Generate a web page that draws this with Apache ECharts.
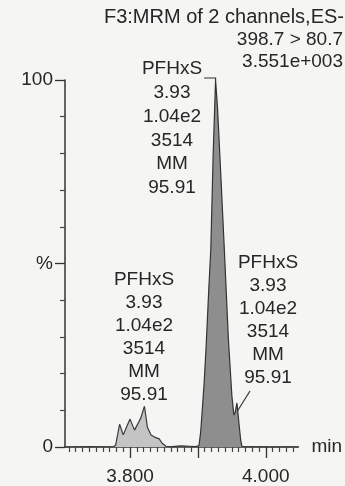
<!DOCTYPE html>
<html>
<head>
<meta charset="utf-8">
<script src="https://cdn.jsdelivr.net/npm/echarts@6/dist/echarts.min.js"></script>
<style>
    html, body { margin: 0; padding: 0; background: #f5f5f3; }
    #main { width: 345px; height: 486px; }
</style>
</head>
<body>
<div id="main"></div>
<script>
// retention time (min) / relative intensity (%)
var smallTimes = [3.7042, 3.74, 3.775, 3.7788, 3.7846, 3.790, 3.795, 3.800, 3.8066, 3.812, 3.816, 3.8212, 3.8256, 3.831, 3.836, 3.843, 3.847, 3.853, 3.862];
var smallPct   = [0, 0.1, 0, 0.5, 6.2, 3.3, 5.5, 7.6, 4.6, 6.5, 8, 11.1, 5.4, 3.3, 2.7, 2.2, 1.1, 0.2, 0.1];

var mainTimes = [3.862, 3.875, 3.888, 3.896, 3.9015, 3.904, 3.906, 3.909, 3.912, 3.916, 3.919, 3.9225, 3.926, 3.929, 3.934, 3.939, 3.945, 3.950, 3.953, 3.955, 3.9575, 3.960, 3.963, 3.965, 4.00, 4.048];
var mainPct   = [0.1, 0.3, 0.2, 0.1, 0.3, 4, 9, 17, 27, 43, 54, 80, 100, 92, 73, 53.5, 29, 14, 8.7, 9.5, 12, 7.3, 1.9, 0.1, 0, 0];

var xLabelValues = [3.8, 4.0];
var xMajorTicks = [3.8, 3.9, 4.0];
var xMinorTicks = [3.71, 3.72, 3.73, 3.74, 3.75, 3.76, 3.77, 3.78, 3.79, 3.81, 3.82, 3.83, 3.84, 3.85, 3.86, 3.87, 3.88, 3.89, 3.91, 3.92, 3.93, 3.94, 3.95, 3.96, 3.97, 3.98, 3.99, 4.01, 4.02, 4.03, 4.04];
var yLabelValues = [0, 50, 100];
var yLabelTexts = ['0', '%', '100'];
var yMinorTicks = [10, 20, 30, 40, 60, 70, 80, 90];

var headerLines = ['F3:MRM of 2 channels,ES-', '398.7 > 80.7', '3.551e+003'];
var peakLabel = ['PFHxS', '3.93', '1.04e2', '3514', 'MM', '95.91'];

function pairs(xs, ys) {
    var out = [];
    for (var i = 0; i < xs.length; i++) out.push([xs[i], ys[i]]);
    return out;
}

var ink = '#262626';
var font = 'Liberation Sans';
var xMin = 3.7042, xMax = 4.048;

var myChart = echarts.init(document.getElementById('main'));
var option = {
    animation: false,
    backgroundColor: '#f5f5f3',
    grid: { left: 65, right: 45, top: 80, bottom: 38 },
    xAxis: [
        {
            type: 'value', min: xMin, max: xMax, position: 'bottom',
            name: 'min', nameLocation: 'end', nameGap: 13,
            nameTextStyle: { color: ink, fontSize: 19, fontFamily: font, verticalAlign: 'middle' },
            axisLine: { show: true, lineStyle: { color: '#333', width: 1.5 } },
            axisTick: { show: true, customValues: xMajorTicks, length: 11, lineStyle: { color: '#333', width: 1.3 } },
            axisLabel: {
                customValues: xLabelValues, margin: 20, color: ink, fontSize: 19, fontFamily: font,
                formatter: function (v) { return v.toFixed(3); }
            },
            splitLine: { show: false }
        },
        {
            type: 'value', min: xMin, max: xMax, position: 'bottom',
            axisLine: { show: false },
            axisTick: { show: true, customValues: xMinorTicks, length: 5, lineStyle: { color: '#444', width: 1.2 } },
            axisLabel: { show: false },
            splitLine: { show: false }
        }
    ],
    yAxis: [
        {
            type: 'value', min: 0, max: 100, position: 'left',
            axisLine: { show: true, lineStyle: { color: '#333', width: 1.5 } },
            axisTick: { show: true, customValues: yLabelValues, length: 10, lineStyle: { color: '#333', width: 1.3 } },
            axisLabel: {
                customValues: yLabelValues, margin: 12, color: ink, fontSize: 19, fontFamily: font,
                formatter: function (v) { return yLabelTexts[yLabelValues.indexOf(v)]; }
            },
            splitLine: { show: false }
        },
        {
            type: 'value', min: 0, max: 100, position: 'left',
            axisLine: { show: false },
            axisTick: { show: true, customValues: yMinorTicks, length: 5, lineStyle: { color: '#444', width: 1.2 } },
            axisLabel: { show: false },
            splitLine: { show: false }
        }
    ],
    series: [
        {
            type: 'line', xAxisIndex: 0, yAxisIndex: 0, showSymbol: false,
            data: pairs(smallTimes, smallPct),
            lineStyle: { color: '#3a3a3a', width: 1.2 },
            areaStyle: { color: '#c4c4c4', opacity: 1 }
        },
        {
            type: 'line', xAxisIndex: 0, yAxisIndex: 0, showSymbol: false,
            data: pairs(mainTimes, mainPct),
            lineStyle: { color: '#333', width: 1.2 },
            areaStyle: { color: '#8e8e8e', opacity: 1 }
        }
    ],
    graphic: {
        elements: [
            { id: 'h0', type: 'text', style: { text: headerLines[0], x: 344, y: 17, align: 'right', verticalAlign: 'middle', font: '20px "' + font + '"', fill: ink } },
            { id: 'h1', type: 'text', style: { text: headerLines[1], x: 343, y: 40, align: 'right', verticalAlign: 'middle', font: '19px "' + font + '"', fill: ink } },
            { id: 'h2', type: 'text', style: { text: headerLines[2], x: 343, y: 62, align: 'right', verticalAlign: 'middle', font: '19px "' + font + '"', fill: ink } },
            { id: 'a1', type: 'text', style: { text: peakLabel.join('\n'), x: 172, y: 57, align: 'center', verticalAlign: 'top', lineHeight: 23.8, font: '19px "' + font + '"', fill: ink } },
            { id: 'a2', type: 'text', style: { text: peakLabel.join('\n'), x: 144, y: 268.5, align: 'center', verticalAlign: 'top', lineHeight: 23, font: '19px "' + font + '"', fill: ink } },
            { id: 'a3', type: 'text', style: { text: peakLabel.join('\n'), x: 268, y: 251.5, align: 'center', verticalAlign: 'top', lineHeight: 23, font: '19px "' + font + '"', fill: ink } }
        ]
    }
};
myChart.setOption(option);

// leader lines from the labels to the apex and to the shoulder
var apex = myChart.convertToPixel({ xAxisIndex: 0, yAxisIndex: 0 }, [mainTimes[12], mainPct[12]]);
var shoulder = myChart.convertToPixel({ xAxisIndex: 0, yAxisIndex: 0 }, [3.9555, 9]);
myChart.setOption({
    graphic: {
        elements: [
            { id: 'l1', type: 'polyline', shape: { points: [[204, 78], [apex[0], 78], apex] }, style: { stroke: '#333', lineWidth: 1.2, fill: null } },
            { id: 'l3', type: 'polyline', shape: { points: [[250, 391], shoulder] }, style: { stroke: '#333', lineWidth: 1.2, fill: null } }
        ]
    }
});
</script>
</body>
</html>
